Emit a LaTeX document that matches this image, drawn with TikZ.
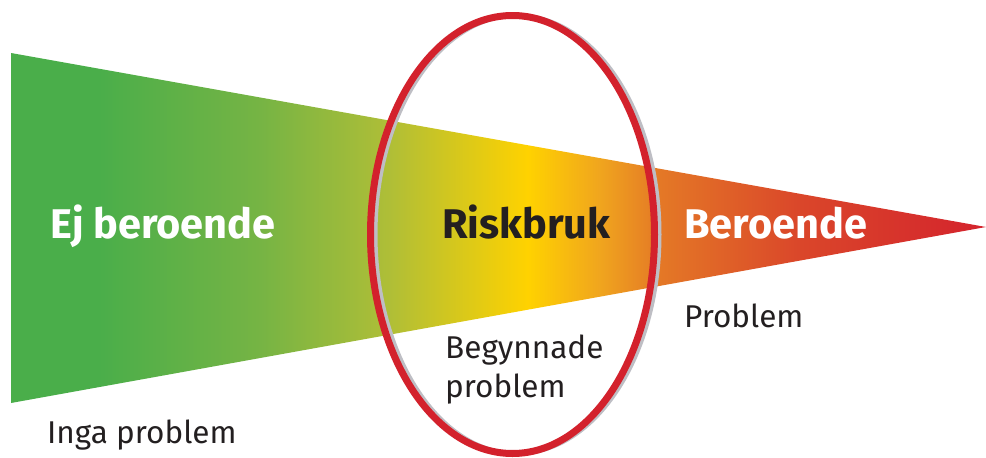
\documentclass[tikz,border=0pt]{standalone}
\usepackage{fontspec}
\setmainfont{Fira Sans}
\definecolor{cgreen}{RGB}{74,174,74}
\definecolor{cgreenb}{RGB}{118,180,68}
\definecolor{cyg}{RGB}{175,190,55}
\definecolor{cyellow}{RGB}{255,210,0}
\definecolor{corangea}{RGB}{240,165,30}
\definecolor{corange}{RGB}{228,120,38}
\definecolor{cred2}{RGB}{218,70,42}
\definecolor{cred}{RGB}{212,35,45}
\definecolor{ring}{RGB}{211,33,44}
\definecolor{ringgrey}{RGB}{190,190,196}
\definecolor{txt}{RGB}{35,31,32}
\pgfdeclarehorizontalshading{scale}{100bp}{color(0bp)=(cgreen); color(25bp)=(cgreen); color(29.5bp)=(cgreen); color(37.8bp)=(cgreenb); color(44.4bp)=(cyg); color(51.5bp)=(cyellow); color(55.2bp)=(corangea); color(58.3bp)=(corange); color(65.5bp)=(cred2); color(75bp)=(cred); color(100bp)=(cred)}
\begin{document}
\begin{tikzpicture}[x=1pt,y=1pt,
  big/.style={font=\fontsize{41.5}{48}\selectfont\bfseries, inner sep=0pt, anchor=base west},
  small/.style={font=\fontsize{31.5}{38}\selectfont, inner sep=0pt, anchor=base west, text=txt}]
\useasboundingbox (0,0) rectangle (986,-458);
\shade[shading=scale] (11,-53) -- (986,-227) -- (11,-403) -- cycle;
\draw[ringgrey, line width=4] (517.5,-234.5) ellipse [x radius=142, y radius=219];
\draw[ring, line width=7] (512.5,-234.5) ellipse [x radius=142, y radius=219];
\node[big, text=white] (ej) at (50,-238) {Ej beroende};
\node[big, text=txt] (risk) at (442,-238) {Riskbruk};
\node[big, text=white] (ber) at (684,-238) {Beroende};
\node[small] (prob) at (684,-327) {Problem};
\node[small] (beg) at (445,-358) {Begynnade};
\node[small] (beg2) at (445,-397) {problem};
\node[small] (inga) at (47,-443) {Inga problem};
\end{tikzpicture}
\end{document}
